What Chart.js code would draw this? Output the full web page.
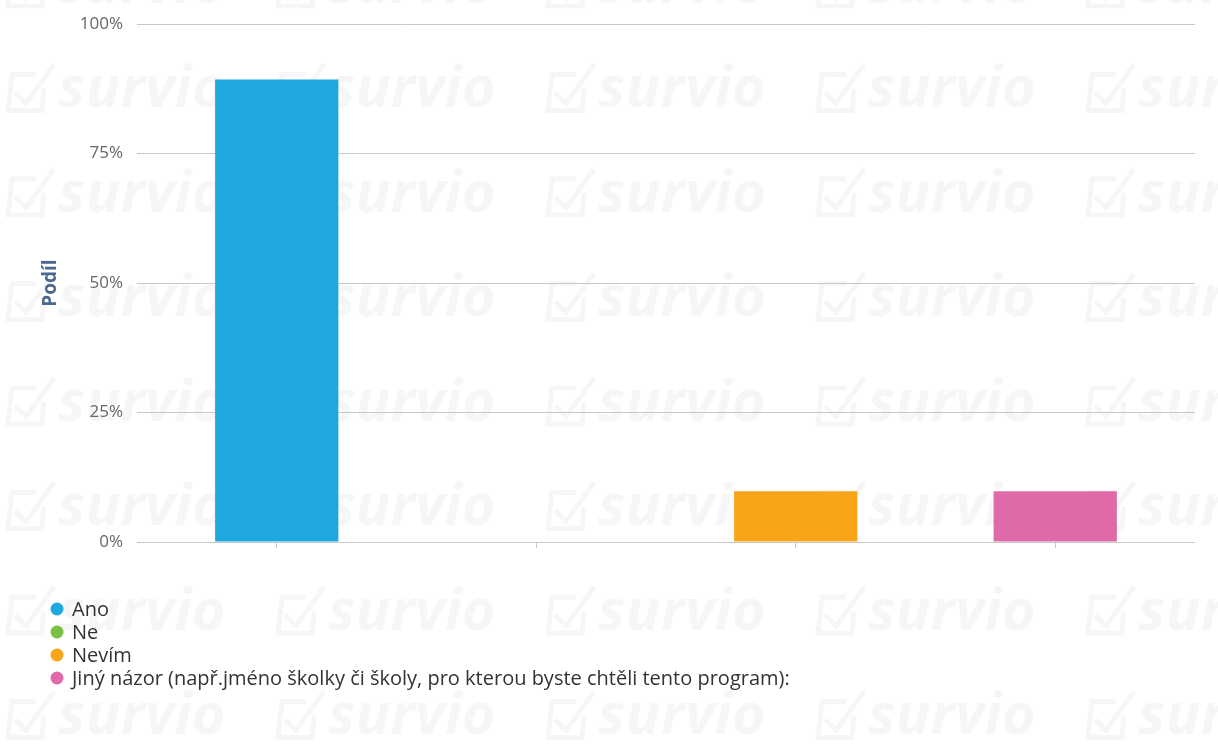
<!DOCTYPE html>
<html>
<head>
<meta charset="utf-8">
<script src="https://cdn.jsdelivr.net/npm/chart.js@4.4.0/dist/chart.umd.min.js"></script>
<style>
  html, body { margin: 0; padding: 0; background: #ffffff; }
  #wrap { width: 1218px; height: 753px; position: relative; }
</style>
</head>
<body>
<div id="wrap"><canvas id="c" width="1218" height="753"></canvas></div>
<script>
const categories = ["Ano", "Ne", "Nevím", "Jiný názor (např.jméno školky či školy, pro kterou byste chtěli tento program):"];
const shares = [89.3, 0, 9.8, 9.8];
const barColors = ["#1fa8df", "#7ac143", "#f9a51a", "#e06aa8"];
const tickValues = [0, 25, 50, 75, 100];
const axisTitle = "Podíl";
const watermarkText = "survio";

const FONT = "'Open Sans', 'Noto Sans', sans-serif";
const GRID = "#c8c8c8";

const backgroundPlugin = {
  id: "bgWatermark",
  beforeDraw(chart) {
    const ctx = chart.ctx;
    ctx.save();
    ctx.fillStyle = "#ffffff";
    ctx.fillRect(0, 0, chart.width, chart.height);
    ctx.fillStyle = "rgba(0,0,0,0.035)";
    ctx.strokeStyle = "rgba(0,0,0,0.035)";
    ctx.font = "italic bold 58px " + FONT;
    ctx.textBaseline = "middle";
    for (let r = 0; r < 8; r++) {
      const y = -14 + 104.5 * r;
      for (let c = 0; c < 5; c++) {
        const x = 6 + 270 * c;
        ctx.lineWidth = 5;
        ctx.beginPath();
        ctx.moveTo(x + 38, y - 2);
        ctx.lineTo(x + 36, y + 20);
        ctx.lineTo(x + 2, y + 20);
        ctx.lineTo(x + 6, y - 16);
        ctx.lineTo(x + 30, y - 16);
        ctx.stroke();
        ctx.beginPath();
        ctx.moveTo(x + 9, y + 2);
        ctx.lineTo(x + 20, y + 13);
        ctx.lineTo(x + 48, y - 26);
        ctx.stroke();
        ctx.fillText(watermarkText, x + 52, y);
      }
    }
    ctx.restore();
  }
};

const legendPlugin = {
  id: "vertLegend",
  afterDraw(chart) {
    const ctx = chart.ctx;
    const ds = chart.data.datasets[0];
    ctx.save();
    ctx.font = "20px " + FONT;
    ctx.textBaseline = "middle";
    chart.data.labels.forEach((lab, i) => {
      const y = 609 + 23 * i;
      ctx.fillStyle = ds.backgroundColor[i];
      ctx.beginPath();
      ctx.arc(57, y, 6.5, 0, Math.PI * 2);
      ctx.fill();
      ctx.fillStyle = "#333333";
      ctx.fillText(lab, 72, y + 1);
    });
    ctx.restore();
  }
};

new Chart(document.getElementById("c"), {
  type: "bar",
  data: {
    labels: categories,
    datasets: [{
      label: axisTitle,
      data: shares,
      backgroundColor: barColors,
      borderWidth: 0,
      barPercentage: 0.475,
      categoryPercentage: 1.0
    }]
  },
  options: {
    responsive: false,
    animation: false,
    layout: { padding: { top: 23, bottom: 199, left: 0, right: 0 } },
    plugins: {
      legend: { display: false },
      tooltip: { enabled: false }
    },
    scales: {
      x: {
        ticks: { display: false },
        grid: { offset: false, drawOnChartArea: false, drawTicks: true, tickLength: 6, color: GRID },
        border: { display: false },
        afterFit(s) { s.height = 12; }
      },
      y: {
        position: "left",
        min: 0, max: 100,
        afterBuildTicks(s) { s.ticks = tickValues.map(v => ({ value: v })); },
        ticks: {
          padding: 14,
          color: "#666666",
          font: { family: FONT, size: 17 },
          callback: v => v + "%"
        },
        grid: { color: GRID, tickLength: 10, drawTicks: true },
        border: { display: false },
        title: {
          display: true,
          text: axisTitle,
          color: "#4a6890",
          font: { family: FONT, size: 19, weight: "bold" },
          padding: { top: 39, bottom: 0 }
        },
        afterFit(s) { s.width = 147; }
      },
      y2: {
        position: "right",
        min: 0, max: 100,
        afterBuildTicks(s) { s.ticks = tickValues.map(v => ({ value: v })); },
        ticks: { display: false },
        grid: { color: GRID, tickLength: 10, drawTicks: true, drawOnChartArea: false },
        border: { display: false },
        afterFit(s) { s.width = 33; }
      }
    }
  },
  plugins: [backgroundPlugin, legendPlugin]
});
</script>
</body>
</html>
